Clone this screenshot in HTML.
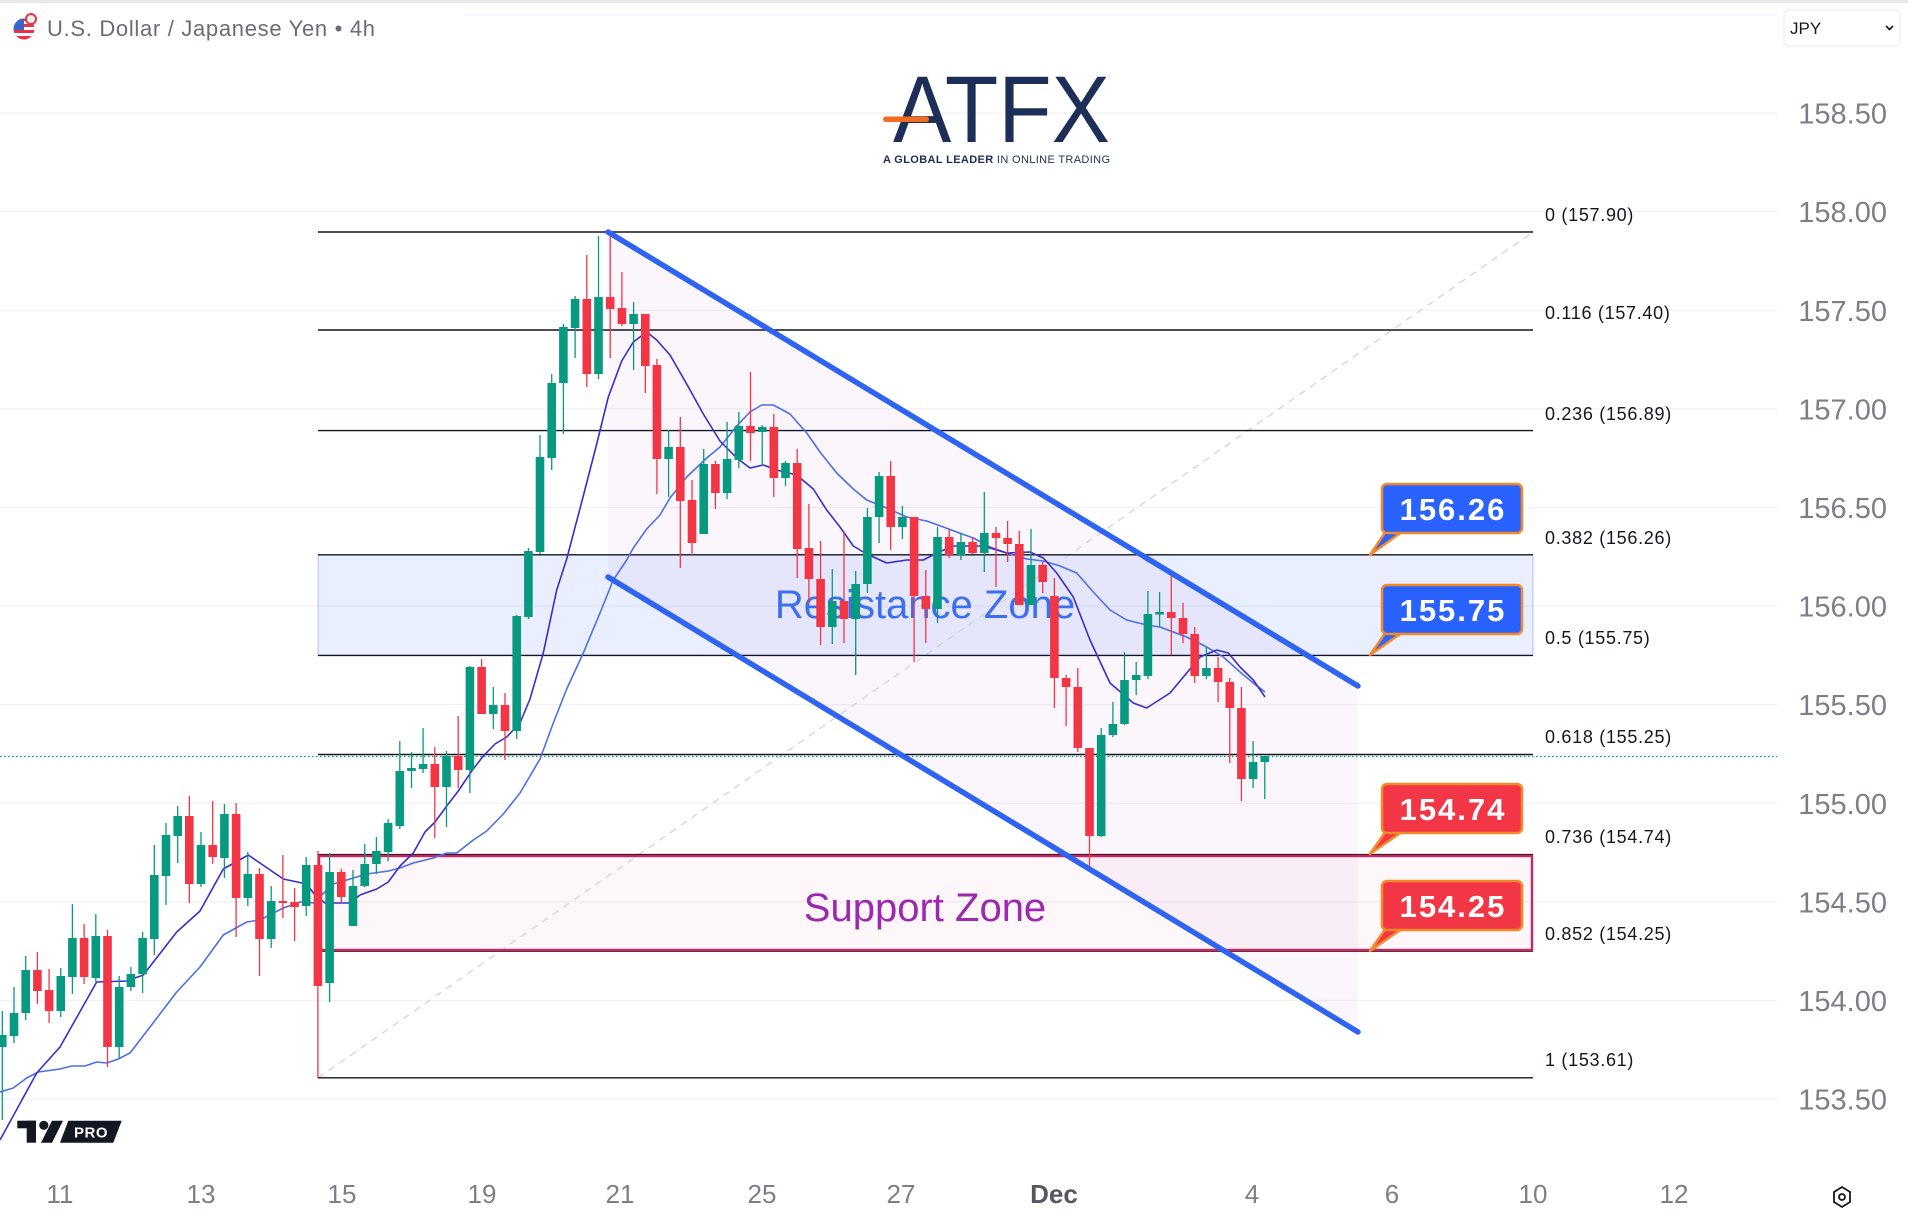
<!DOCTYPE html>
<html><head><meta charset="utf-8"><style>
html,body{margin:0;padding:0;background:#fff;}
body{width:1908px;height:1224px;overflow:hidden;}
svg{display:block;}
</style></head><body>
<svg width="1908" height="1224" viewBox="0 0 1908 1224" xmlns="http://www.w3.org/2000/svg" font-family="'Liberation Sans', sans-serif">
<rect x="0" y="0" width="1908" height="1224" fill="#fff"/>
<rect x="0" y="0" width="1908" height="3" fill="#e6e8ec"/>
<line x1="464" y1="15" x2="1777" y2="15" stroke="#f2f3f5" stroke-width="1"/>
<!-- gridlines -->
<g stroke="#eff1f4" stroke-width="1.2">
<line x1="0" y1="113.1" x2="1777" y2="113.1"/>
<line x1="0" y1="211.7" x2="1777" y2="211.7"/>
<line x1="0" y1="310.3" x2="1777" y2="310.3"/>
<line x1="0" y1="408.9" x2="1777" y2="408.9"/>
<line x1="0" y1="507.5" x2="1777" y2="507.5"/>
<line x1="0" y1="606.1" x2="1777" y2="606.1"/>
<line x1="0" y1="704.7" x2="1777" y2="704.7"/>
<line x1="0" y1="803.3" x2="1777" y2="803.3"/>
<line x1="0" y1="901.9" x2="1777" y2="901.9"/>
<line x1="0" y1="1000.5" x2="1777" y2="1000.5"/>
<line x1="0" y1="1099.1" x2="1777" y2="1099.1"/>
</g>
<!-- zones -->
<rect x="318" y="554.8" width="1215" height="100.6" fill="rgba(41,98,255,0.1)" stroke="rgba(41,98,255,0.35)" stroke-width="1"/>
<rect x="318" y="854.6" width="1215" height="96.6" fill="rgba(233,30,99,0.035)"/>
<!-- channel fill -->
<polygon points="608,232 1358,686 1358,1032 608,577" fill="rgba(156,39,176,0.045)"/>
<!-- fib dashed diagonal -->
<line x1="318" y1="1078" x2="1533" y2="232" stroke="#cfd1d6" stroke-width="1.2" stroke-dasharray="7 6"/>
<!-- fib lines -->
<g stroke="#131722" stroke-width="1.4">
<line x1="318" y1="232" x2="1533" y2="232"/>
<line x1="318" y1="330" x2="1533" y2="330"/>
<line x1="318" y1="430.6" x2="1533" y2="430.6"/>
<line x1="318" y1="554.8" x2="1533" y2="554.8"/>
<line x1="318" y1="655.4" x2="1533" y2="655.4"/>
<line x1="318" y1="754.5" x2="1533" y2="754.5"/>
<line x1="318" y1="854.6" x2="1533" y2="854.6"/>
<line x1="318" y1="951.2" x2="1533" y2="951.2"/>
<line x1="318" y1="1077.8" x2="1533" y2="1077.8"/>
</g>
<!-- support border -->
<rect x="319" y="856" width="1213" height="94" fill="none" stroke="#d0245e" stroke-width="2.4"/>
<!-- current price dotted -->
<line x1="0" y1="756.5" x2="1777" y2="756.5" stroke="#089981" stroke-width="1.2" stroke-dasharray="1.5 2.5"/>
<!-- fib labels -->
<g font-size="18" fill="#131722" letter-spacing="0.7">
<text x="1545" y="221">0 (157.90)</text>
<text x="1545" y="319">0.116 (157.40)</text>
<text x="1545" y="420">0.236 (156.89)</text>
<text x="1545" y="544">0.382 (156.26)</text>
<text x="1545" y="644">0.5 (155.75)</text>
<text x="1545" y="743">0.618 (155.25)</text>
<text x="1545" y="843">0.736 (154.74)</text>
<text x="1545" y="940">0.852 (154.25)</text>
<text x="1545" y="1066">1 (153.61)</text>
</g>
<!-- zone texts -->
<text x="925" y="618" font-size="40" fill="#3b6ef0" text-anchor="middle">Resistance Zone</text>
<text x="925" y="921" font-size="40" fill="#9c27b0" text-anchor="middle">Support Zone</text>
<!-- moving averages -->
<polyline fill="none" stroke="#4a70e8" stroke-width="1.6" stroke-linejoin="round" points="0,1092 13.3,1088 26.7,1078 38.3,1072 60,1069 71.7,1066 85,1066 96.7,1062 106.7,1063 118.3,1059 130,1053 150,1027 176.7,992 200,967 223.3,935 246.7,922 260,920 283.3,908 300,902 313.3,903 333.3,884 350,879 366.7,874 388.3,871 400,868 413.3,863 433.3,858 446.7,853 456.7,853 473.3,840 486.7,831 503.3,814 520,793 540,759 553.3,723 566.7,689 583.3,653 600,613 613.3,580 626.7,560 633.3,548 646.7,529 660,515 670,498 686.7,477 706.7,458 720,447 736.7,426 750,412 761.7,405 773.3,405 790,414 806.7,433 820,452 836.7,473 853.3,489 866.7,500 886.7,508 906.7,517 926.7,521 943.3,527 956.7,532 973.3,538 990,547 1006.7,553 1026.7,559 1043.3,561 1060,566 1076.7,573 1093.3,592 1110,610 1126.7,620 1146.7,625 1160,627 1173.3,632 1186.7,637 1206.7,647 1223.3,657 1240,672 1253.3,683 1265,692"/>
<polyline fill="none" stroke="#3a2dcc" stroke-width="1.6" stroke-linejoin="round" points="0,1140 36.7,1073 60,1047 96.7,982 126.7,981 143.3,975 176.7,932 200,911 223.3,869 248.3,855 283.3,879 306.7,884 315,895 325,903 333.3,903 350,903 360,895 376.7,889 388.3,882 400,866 413.3,853 425,832 435,822 446.7,806 458.3,791 471.7,771 483.3,756 495,744 506.7,737 520,723 530,699 543.3,653 556.7,590 566.7,559 583.3,496 596.7,444 608.3,397 621.7,361 633.3,342 646.7,332 656.7,340 670,355 686.7,384 703.3,414 720,441 736.7,458 750,468 763.3,465 776.7,470 796.7,475 813.3,489 826.7,510 840,527 853.3,546 866.7,554 886.7,563 906.7,560 923.3,560 936.7,553 953.3,546 983.3,546 1006.7,553 1030,552 1043.3,558 1056.7,573 1073.3,597 1090,640 1110,683 1133.3,703 1146.7,708 1170,693 1186.7,673 1200,657 1216.7,650 1228.3,653 1240,667 1253.3,680 1265,697"/>
<!-- candles green -->
<path fill="none" stroke="#089981" stroke-width="1.3" d="M2.3 1011V1120M14 987V1043M25.7 956V1020M60.8 968V1017M72.4 904V994M95.8 914V982M119.2 976V1058M130.9 967V991M142.6 932V993M154.3 845V955M166 823V905M177.7 806V863M201 832V887M224.4 804V878M247.8 852V906M271.2 886V948M306.2 857V916M329.6 853V1002M353 870V926M364.7 844V887M376.4 837V874M388.1 819V861M399.8 741V829M411.5 752V788M423.1 728V773M446.5 751V827M469.9 666V793M493.3 687V729M516.7 615V739M528.4 548V619M540 435V554M551.7 374V470M563.4 324V434M575.1 296V358M598.5 236V379M633.6 302V370M668.6 430V497M703.7 449V534M727.1 422V499M738.8 412V468M762.2 425V466M785.5 461V486M832.3 569V644M855.7 571V675M867.4 508V593M879.1 472V543M902.4 506V539M937.5 527V623M960.9 533V560M984.3 492V572M1031 529V605M1101.2 728V837M1112.9 702V737M1124.5 652V725M1136.2 662V695M1147.9 591V679M1159.6 592V627M1206.4 647V679M1253.1 741V788M1264.8 756V799"/>
<path fill="none" stroke="#089981" stroke-width="8.6" d="M2.3 1035V1047M14 1013V1036M25.7 970V1013M60.8 976V1011M72.4 938V977M95.8 936V978M119.2 987V1047M130.9 974V987M142.6 938V974M154.3 875V939M166 835V876M177.7 816V836M201 845V884M224.4 814V858M247.8 874V898M271.2 901V939M306.2 865V906M329.6 872V983M353 886V926M364.7 864V886M376.4 851V864M388.1 823V852M399.8 771V826M411.5 768V771M423.1 764V769M446.5 756V787M469.9 667V770M493.3 705V714M516.7 616V731M528.4 551V617M540 457V552M551.7 383V458M563.4 327V383M575.1 299V328M598.5 297V374M633.6 314V324M668.6 447V459M703.7 464V534M727.1 459V493M738.8 426V460M762.2 427V432M785.5 463V478M832.3 601V627M855.7 584V619M867.4 517V584M879.1 476V517M902.4 517V527M937.5 537V609M960.9 542V555M984.3 533V553M1031 565V605M1101.2 735V836M1112.9 724V735M1124.5 680V724M1136.2 675V680M1147.9 614V676M1159.6 612V614.5M1206.4 668V676M1253.1 762V779M1264.8 756V762"/>
<!-- candles red -->
<path fill="none" stroke="#f23645" stroke-width="1.3" d="M37.4 952V1004M49.1 969V1023M84.1 924V984M107.5 930V1067M189.3 796V903M212.7 801V864M236.1 803V937M259.5 868V976M282.9 855V918M294.6 888V941M317.9 851V1078M341.3 869V903M434.8 747V838M458.2 716V788M481.6 659V714M505 693V760M586.8 255V387M610.2 231V358M621.9 272V326M645.3 314V393M656.9 359V494M680.3 417V568M692 480V555M715.4 461V509M750.5 372V461M773.8 414V497M797.2 449V578M808.9 504V604M820.6 541V645M844 531V643M890.7 461V550M914.1 517V662M925.8 570V643M949.2 530V558M972.6 537V554M996 527V587M1007.6 521V562M1019.3 531V605M1042.7 562V593M1054.4 578V708M1066.1 675V726M1077.8 668V752M1089.5 748V868M1171.3 572V655M1183 603V643M1194.7 627V683M1218.1 657V702M1229.8 678V763M1241.4 687V801"/>
<path fill="none" stroke="#f23645" stroke-width="8.6" d="M37.4 970V991M49.1 990V1011M84.1 938V977M107.5 936V1047M189.3 816V884M212.7 845V857M236.1 814V898M259.5 874V939M282.9 901V903M294.6 902V907M317.9 865V986M341.3 872V897M434.8 764V787M458.2 756V770M481.6 667V714M505 705V731M586.8 299V374M610.2 297V309M621.9 308V324M645.3 314V366M656.9 365V459M680.3 447V501M692 500V543M715.4 464V493M750.5 426V433M773.8 427V478M797.2 463V549M808.9 548V579M820.6 579V627M844 601V619M890.7 476V527M914.1 517V596M925.8 596V609M949.2 537V555M972.6 542V553M996 533V538M1007.6 538V544M1019.3 544V605M1042.7 565V582M1054.4 596V678M1066.1 678V687M1077.8 687V748M1089.5 748V836M1171.3 612V618M1183 618V634M1194.7 634V676M1218.1 668V682M1229.8 682V708M1241.4 708V779"/>
<!-- channel lines -->
<g stroke="#2f63f2" stroke-width="5.5" stroke-linecap="round">
<line x1="608" y1="232" x2="1358" y2="686"/>
<line x1="608" y1="577" x2="1358" y2="1032"/>
</g>
<!-- callouts -->
<g stroke="#f5892a" stroke-width="2.5" stroke-linejoin="round">
<polygon points="1386,531 1403,531 1370,555" fill="#2962ff"/>
<rect x="1382" y="484" width="140" height="49" rx="5" fill="#2962ff"/>
<polygon points="1386,632 1403,632 1370,655" fill="#2962ff"/>
<rect x="1382" y="585" width="140" height="49" rx="5" fill="#2962ff"/>
<polygon points="1386,831 1403,831 1370,854" fill="#f23645"/>
<rect x="1382" y="784" width="140" height="49" rx="5" fill="#f23645"/>
<polygon points="1386,928 1403,928 1370,951" fill="#f23645"/>
<rect x="1382" y="881" width="140" height="49" rx="5" fill="#f23645"/>
</g>
<g font-size="31" font-weight="bold" fill="#fff" text-anchor="middle" letter-spacing="2">
<text x="1453" y="520">156.26</text>
<text x="1453" y="621">155.75</text>
<text x="1453" y="820">154.74</text>
<text x="1453" y="917">154.25</text>
</g>
<!-- price axis -->
<g font-size="29" fill="#7c7f8a" text-anchor="end">
<text x="1887" y="123.6">158.50</text>
<text x="1887" y="222.2">158.00</text>
<text x="1887" y="320.8">157.50</text>
<text x="1887" y="419.4">157.00</text>
<text x="1887" y="518">156.50</text>
<text x="1887" y="616.6">156.00</text>
<text x="1887" y="715.2">155.50</text>
<text x="1887" y="813.8">155.00</text>
<text x="1887" y="912.4">154.50</text>
<text x="1887" y="1011">154.00</text>
<text x="1887" y="1109.6">153.50</text>
</g>
<!-- time axis -->
<g font-size="26" fill="#7c7f8a" text-anchor="middle">
<text x="60" y="1203">11</text>
<text x="201" y="1203">13</text>
<text x="342" y="1203">15</text>
<text x="482" y="1203">19</text>
<text x="620" y="1203">21</text>
<text x="762" y="1203">25</text>
<text x="901" y="1203">27</text>
<text x="1054" y="1203" font-weight="bold" fill="#555862">Dec</text>
<text x="1252" y="1203">4</text>
<text x="1392" y="1203">6</text>
<text x="1533" y="1203">10</text>
<text x="1674" y="1203">12</text>
</g>
<!-- settings icon -->
<g fill="none" stroke="#131722" stroke-width="1.8">
<polygon points="1842,1187 1850,1192 1850,1202 1842,1207 1834,1202 1834,1192"/>
<circle cx="1842" cy="1197" r="3"/>
</g>
<!-- TV PRO logo -->
<g fill="#131722">
<rect x="17.3" y="1120.7" width="18.7" height="7.6"/>
<rect x="26.7" y="1120.7" width="9.3" height="22"/>
<circle cx="43.8" cy="1125.3" r="4.6"/>
<polygon points="52,1120.7 63,1120.7 52,1142.7 41,1142.7"/>
<polygon points="68.3,1120.7 121.7,1120.7 113.3,1142.7 60,1142.7"/>
</g>
<text x="91" y="1137.5" font-size="15" font-weight="bold" fill="#fff" text-anchor="middle" letter-spacing="0.5">PRO</text>
<!-- title -->
<defs><clipPath id="fc"><circle cx="24" cy="29" r="10.5"/></clipPath></defs>
<g clip-path="url(#fc)">
<rect x="13" y="18" width="22" height="22" fill="#fff"/>
<rect x="13" y="18" width="22" height="3" fill="#e8334a"/>
<rect x="13" y="24" width="22" height="3" fill="#e8334a"/>
<rect x="13" y="30" width="22" height="3" fill="#e8334a"/>
<rect x="13" y="36" width="22" height="4" fill="#e8334a"/>
<rect x="13" y="18" width="11" height="12" fill="#3b63c9"/>
</g>
<circle cx="31" cy="19" r="5" fill="#f0f0f0" stroke="#e8334a" stroke-width="2"/>
<text x="47" y="36" font-size="22" fill="#6a6d78" textLength="328" lengthAdjust="spacing">U.S. Dollar / Japanese Yen • 4h</text>
<!-- JPY select -->
<rect x="1784" y="10" width="116" height="36" rx="5" fill="#fff" stroke="#eceef1" stroke-width="1.2"/>
<text x="1790" y="34" font-size="17" fill="#131722">JPY</text>
<polyline points="1886,26 1889.5,29.5 1893,26" fill="none" stroke="#131722" stroke-width="1.6"/>
<!-- ATFX logo -->
<text x="893" y="142" font-size="95" fill="#1d2f58" textLength="217" lengthAdjust="spacingAndGlyphs">ATFX</text>
<rect x="883" y="116.5" width="46" height="5.5" rx="2.7" fill="#f26b21"/>
<text x="883" y="163" font-size="11" fill="#1d2f58" textLength="227" lengthAdjust="spacing"><tspan font-weight="bold">A GLOBAL LEADER</tspan> IN ONLINE TRADING</text>
</svg>
</body></html>
